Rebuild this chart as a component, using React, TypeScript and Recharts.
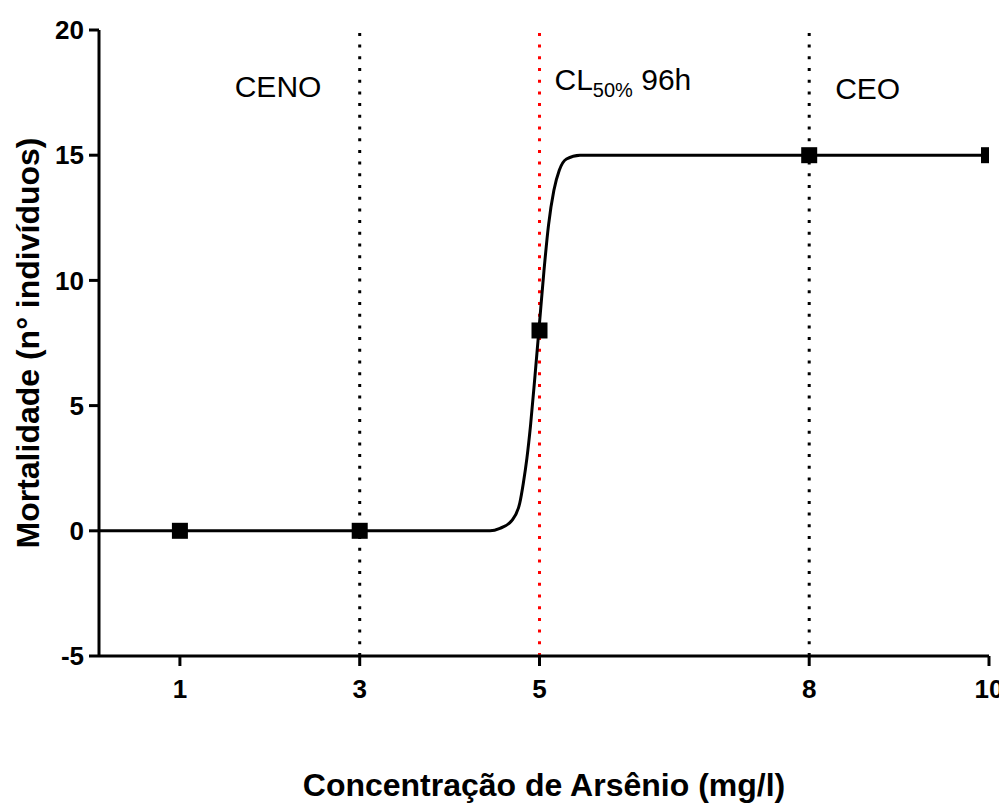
import { ComposedChart, Line, Scatter, XAxis, YAxis, ReferenceLine } from 'recharts';

// axis ticks
const xTicks = [1, 3, 5, 8, 10];
const yTicks = [-5, 0, 5, 10, 15, 20];

// measured points
const concentration = [1, 3, 5, 8, 10];
const mortality = [0, 0, 8, 15, 15];

// fitted curve
const curveX = [0.1, 4.45, 4.56, 4.69, 4.78, 4.82, 4.86, 4.9, 4.95, 5.0, 5.05, 5.1, 5.16, 5.22, 5.3, 5.45, 6.0, 10];
const curveY = [0, 0, 0.1, 0.4, 1.1, 1.9, 2.9, 4.2, 6.2, 8.3, 10.4, 12.2, 13.6, 14.4, 14.85, 15.0, 15.0, 15.0];

const points = concentration.map((x, i) => ({ x, y: mortality[i] }));
const curve = curveX.map((x, i) => ({ x, y: curveY[i] }));

const FONT = '"Liberation Sans", Arial, sans-serif';
const axisStyle = { stroke: '#000', strokeWidth: 3 };
const tickStyle = { fill: '#000', fontSize: 26, fontWeight: 'bold', fontFamily: FONT };

const Square = (props: any) => {
  const { cx, cy } = props;
  return <rect x={cx - 8} y={cy - 8} width={16} height={16} fill="#000" />;
};

const cenoLabel = (props: any) => {
  const { x, y } = props.viewBox;
  return (
    <text x={x - 125} y={y + 67} fontSize={30} fontFamily={FONT} fill="#000">
      CENO
    </text>
  );
};

const clLabel = (props: any) => {
  const { x, y } = props.viewBox;
  return (
    <text x={x + 15} y={y + 60} fontSize={30} fontFamily={FONT} fill="#000">
      CL
      <tspan fontSize={20} dy={7}>50%</tspan>
      <tspan dy={-7}> 96h</tspan>
    </text>
  );
};

const ceoLabel = (props: any) => {
  const { x, y } = props.viewBox;
  return (
    <text x={x + 26} y={y + 69} fontSize={30} fontFamily={FONT} fill="#000">
      CEO
    </text>
  );
};

const xTitle = (props: any) => {
  const { x, y, width, height } = props.viewBox;
  return (
    <text
      x={x + width / 2}
      y={y + height - 12}
      textAnchor="middle"
      fontSize={32}
      fontWeight="bold"
      fontFamily={FONT}
      fill="#000"
    >
      Concentração de Arsênio (mg/l)
    </text>
  );
};

export default function App() {
  const titleX = 31;
  const titleY = 335;
  return (
    <div style={{ width: 999, height: 800, position: 'relative' }}>
      <ComposedChart width={999} height={800} margin={{ top: 22, right: 18, bottom: 0, left: 0 }}>
        <XAxis
          xAxisId="bottom"
          type="number"
          dataKey="x"
          domain={[0.1, 10]}
          ticks={xTicks}
          allowDataOverflow
          height={152}
          axisLine={axisStyle}
          tickLine={axisStyle}
          tickSize={10}
          tickMargin={14}
          tick={tickStyle}
          label={xTitle}
        />
        <XAxis
          xAxisId="top"
          orientation="top"
          type="number"
          domain={[0.1, 10]}
          ticks={xTicks}
          allowDataOverflow
          height={0}
          axisLine={axisStyle}
          tickLine={axisStyle}
          tickSize={10}
          tick={false}
        />
        <YAxis
          yAxisId="left"
          type="number"
          domain={[-5, 20]}
          ticks={yTicks}
          allowDataOverflow
          width={91}
          axisLine={axisStyle}
          tickLine={axisStyle}
          tickSize={10}
          tickMargin={5}
          tick={tickStyle}
        />
        <YAxis
          yAxisId="right"
          orientation="right"
          type="number"
          domain={[-5, 20]}
          ticks={yTicks}
          allowDataOverflow
          width={0}
          axisLine={axisStyle}
          tickLine={axisStyle}
          tickSize={10}
          tick={false}
        />
        <ReferenceLine xAxisId="bottom" yAxisId="left" x={3} stroke="#000" strokeWidth={3} strokeDasharray="3 8.7" label={cenoLabel} />
        <ReferenceLine xAxisId="bottom" yAxisId="left" x={5} stroke="#ff0000" strokeWidth={3} strokeDasharray="3 8.7" label={clLabel} />
        <ReferenceLine xAxisId="bottom" yAxisId="left" x={8} stroke="#000" strokeWidth={3} strokeDasharray="3 8.7" label={ceoLabel} />
        <Line
          xAxisId="bottom"
          yAxisId="left"
          data={curve}
          dataKey="y"
          type="monotone"
          stroke="#000"
          strokeWidth={3}
          dot={false}
          activeDot={false}
          isAnimationActive={false}
        />
        <Scatter
          xAxisId="bottom"
          yAxisId="left"
          data={points}
          dataKey="y"
          shape={Square}
          isAnimationActive={false}
        />
      </ComposedChart>
      <svg
        width={999}
        height={800}
        style={{ position: 'absolute', left: 0, top: 0, pointerEvents: 'none' }}
      >
        <text
          x={titleX}
          y={titleY}
          transform={`rotate(-90, ${titleX}, ${titleY})`}
          textAnchor="middle"
          fontSize={32}
          fontWeight="bold"
          fontFamily={FONT}
          fill="#000"
        >
          Mortalidade (n° indivíduos)
        </text>
      </svg>
    </div>
  );
}
